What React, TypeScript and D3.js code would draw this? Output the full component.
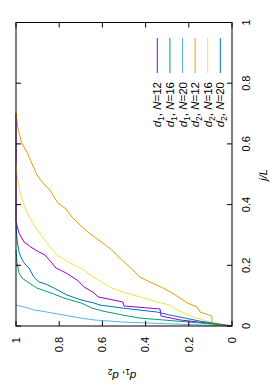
import React from "react";
import * as d3 from "d3";

// j/L values (t) and d values for each series
const d1N12_t = [0.702, 0.343, 0.306, 0.277, 0.26, 0.244, 0.234, 0.211, 0.191, 0.175, 0.152, 0.129, 0.109, 0.096, 0.079, 0.066, 0.056, 0.033, 0.02, 0];
const d1N12_d = [1.0, 1.0, 0.986, 0.963, 0.931, 0.894, 0.866, 0.838, 0.815, 0.769, 0.718, 0.685, 0.639, 0.62, 0.505, 0.5, 0.333, 0.329, 0.241, 0];

const d1N16_t = [0.25, 0.208, 0.175, 0.158, 0.142, 0.125, 0.109, 0.092, 0.076, 0.059, 0.049, 0.036, 0.026, 0.02, 0.01, 0];
const d1N16_d = [1.0, 0.995, 0.986, 0.972, 0.94, 0.903, 0.838, 0.778, 0.699, 0.648, 0.597, 0.505, 0.426, 0.319, 0.148, 0];

const d1N20_t = [0.069, 0.063, 0.053, 0.046, 0.036, 0.026, 0.02, 0.013, 0.01, 0.007, 0];
const d1N20_d = [1.0, 0.963, 0.917, 0.856, 0.778, 0.699, 0.639, 0.505, 0.394, 0.287, 0];

const d2N12_t = [0.702, 0.652, 0.603, 0.573, 0.537, 0.498, 0.471, 0.448, 0.405, 0.386, 0.359, 0.333, 0.31, 0.29, 0.273, 0.25, 0.217, 0.191, 0.161, 0.145, 0.125, 0.109, 0.086, 0.076, 0.063, 0.046, 0.033, 0.003, 0];
const d2N12_d = [1.0, 0.991, 0.974, 0.949, 0.927, 0.903, 0.875, 0.843, 0.806, 0.769, 0.741, 0.704, 0.667, 0.63, 0.597, 0.556, 0.509, 0.468, 0.426, 0.38, 0.319, 0.278, 0.227, 0.208, 0.162, 0.148, 0.093, 0.093, 0];

const d2N16_t = [0.537, 0.498, 0.438, 0.389, 0.366, 0.333, 0.3, 0.273, 0.234, 0.208, 0.191, 0.165, 0.148, 0.125, 0.112, 0.096, 0.079, 0.069, 0.053, 0.03, 0.013, 0];
const d2N16_d = [1.0, 0.995, 0.981, 0.958, 0.944, 0.917, 0.884, 0.856, 0.81, 0.75, 0.699, 0.648, 0.611, 0.556, 0.505, 0.426, 0.347, 0.287, 0.255, 0.181, 0.102, 0];

const d2N20_t = [0.333, 0.283, 0.244, 0.227, 0.208, 0.191, 0.161, 0.145, 0.138, 0.125, 0.102, 0.086, 0.076, 0.069, 0.059, 0.046, 0.036, 0.016, 0];
const d2N20_d = [1.0, 0.995, 0.986, 0.977, 0.963, 0.94, 0.917, 0.894, 0.861, 0.824, 0.764, 0.699, 0.639, 0.611, 0.505, 0.347, 0.287, 0.148, 0];

const seriesSub = ["1", "1", "1", "2", "2", "2"];
const seriesN = ["12", "16", "20", "12", "16", "20"];
const seriesColors = ["#9400d3", "#009e73", "#56b4e9", "#e69f00", "#f0e442", "#0072b2"];
const seriesT = [d1N12_t, d1N16_t, d1N20_t, d2N12_t, d2N16_t, d2N20_t];
const seriesD = [d1N12_d, d1N16_d, d1N20_d, d2N12_d, d2N16_d, d2N20_d];

const jTicks = [0, 0.2, 0.4, 0.6, 0.8, 1];
const dTicks = [0, 0.2, 0.4, 0.6, 0.8, 1];
const tickLabel = (v: number) => (v === 0 ? "0" : v === 1 ? "1" : String(v));

const FONT = "Liberation Sans, Arial, Helvetica, sans-serif";

export default function App() {
  const W = 273, H = 389;
  const left = 16, right = 232, top = 22.5, bottom = 326;
  const xD = d3.scaleLinear().domain([0, 1]).range([right, left]);
  const yJ = d3.scaleLinear().domain([0, 1]).range([bottom, top]);
  const tl = 5;
  const fs = 11;
  const lfs = 11.5;

  const line = d3
    .line<[number, number]>()
    .x((p) => xD(p[1]))
    .y((p) => yJ(p[0]));

  const legendX0 = 157.3, legendDX = 12.6;
  const legendLineTop = 38, legendLineBot = 73, legendTextEnd = 82;

  return (
    <svg
      width={W}
      height={H}
      style={{ position: "absolute", left: 0, top: 0, background: "#fff" }}
      fontFamily={FONT}
    >
      <rect x={0} y={0} width={W} height={H} fill="#fff" />
      <g fill="none" strokeWidth={1}>
        {seriesT.map((ts, i) => {
          const pts: [number, number][] = ts.map((t, k) => [t, seriesD[i][k]]);
          return <path key={i} d={line(pts) || ""} stroke={seriesColors[i]} />;
        })}
      </g>
      <rect x={left} y={top} width={right - left} height={bottom - top} fill="none" stroke="#000" strokeWidth={1} />
      {dTicks.map((v) => (
        <g key={"d" + v}>
          <line x1={xD(v)} x2={xD(v)} y1={bottom} y2={bottom - tl} stroke="#000" />
          <line x1={xD(v)} x2={xD(v)} y1={top} y2={top + tl} stroke="#000" />
          <text
            transform={`translate(${xD(v)},${bottom + 11}) rotate(-90)`}
            textAnchor="end"
            dy="0.35em"
            fontSize={fs}
          >
            {tickLabel(v)}
          </text>
        </g>
      ))}
      {jTicks.map((v) => (
        <g key={"j" + v}>
          <line x1={right} x2={right - tl} y1={yJ(v)} y2={yJ(v)} stroke="#000" />
          <line x1={left} x2={left + tl} y1={yJ(v)} y2={yJ(v)} stroke="#000" />
          <text
            transform={`translate(246,${yJ(v)}) rotate(-90)`}
            textAnchor="middle"
            dy="0.35em"
            fontSize={fs}
          >
            {tickLabel(v)}
          </text>
        </g>
      ))}
      <text transform="translate(263,175) rotate(-90)" textAnchor="middle" dy="0.35em" fontSize={fs} fontStyle="italic">
        j/L
      </text>
      <text transform="translate(122,376) rotate(180)" textAnchor="middle" dy="0.35em" fontSize={11.5}>
        <tspan fontStyle="italic">d</tspan>
        <tspan fontSize={8.5} dy={3}>1</tspan>
        <tspan dy={-3}>, </tspan>
        <tspan fontStyle="italic">d</tspan>
        <tspan fontSize={8.5} dy={3}>2</tspan>
      </text>
      {seriesColors.map((c, i) => {
        const x = legendX0 + i * legendDX;
        return (
          <g key={"lg" + i}>
            <line x1={x} x2={x} y1={legendLineTop} y2={legendLineBot} stroke={c} strokeWidth={1} />
            <text
              transform={`translate(${x},${legendTextEnd}) rotate(-90)`}
              textAnchor="end"
              dy="0.35em"
              fontSize={lfs}
            >
              <tspan fontStyle="italic">d</tspan>
              <tspan fontSize={8.5} dy={3}>{seriesSub[i]}</tspan>
              <tspan dy={-3}>, </tspan>
              <tspan fontStyle="italic">N</tspan>
              <tspan>={seriesN[i]}</tspan>
            </text>
          </g>
        );
      })}
    </svg>
  );
}
